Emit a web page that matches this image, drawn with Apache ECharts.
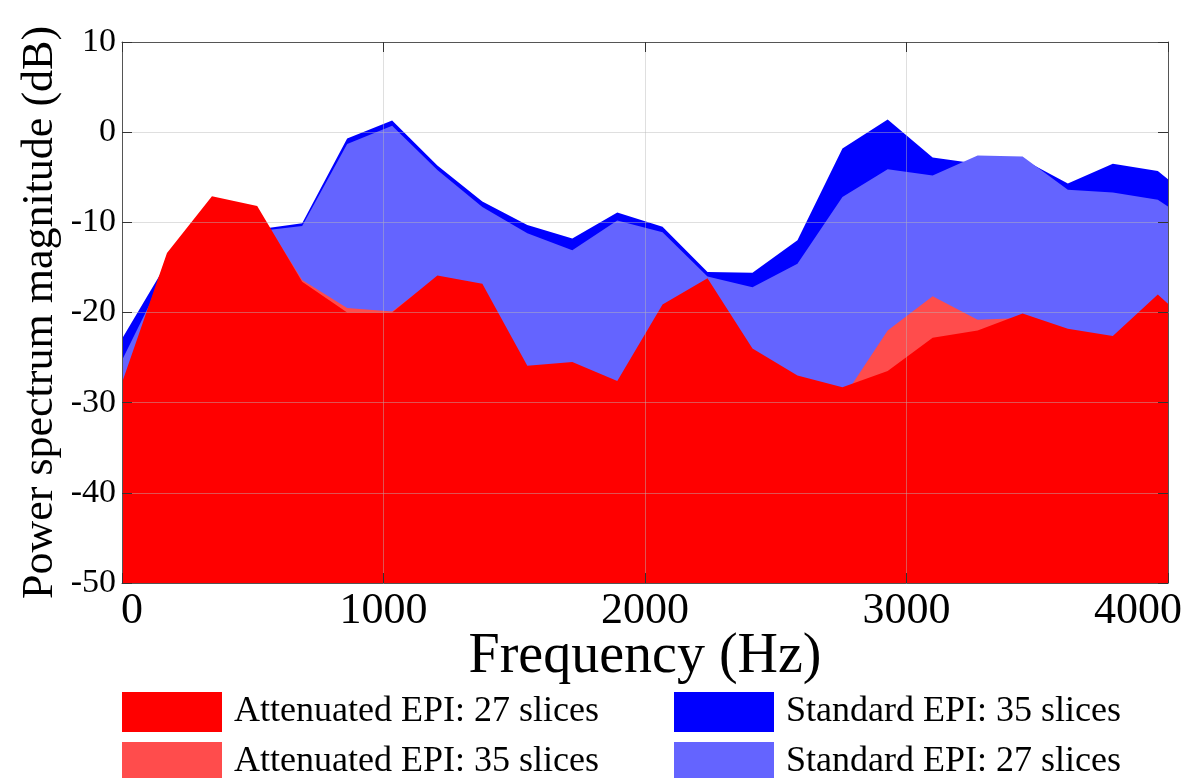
<!DOCTYPE html>
<html><head><meta charset="utf-8">
<script src="https://cdn.jsdelivr.net/npm/echarts@6/dist/echarts.min.js"></script>
<style>html,body{margin:0;padding:0;background:#fff}#c{width:1188px;height:778px}</style>
</head><body><div id="c"></div>
<script>
// Frequency bins (Hz)
const freqHz = [0,172,344,517,689,861,1033,1206,1378,1550,1722,1894,2067,2239,2411,2583,2755,2928,3100,3272,3444,3617,3789,3961,4133];
// Power spectrum magnitude (dB)
const att27 = [-27.8,-13.4,-7.1,-8.2,-16.6,-20.0,-20.0,-15.9,-16.8,-25.9,-25.5,-27.6,-19.1,-16.2,-24.0,-27.0,-28.3,-26.5,-22.8,-22.0,-20.1,-21.8,-22.6,-18.0,-22.5];
const att35 = [-28.0,-13.6,-7.3,-8.4,-16.4,-19.5,-19.9,-16.1,-17.0,-26.1,-25.7,-27.8,-19.3,-16.4,-24.2,-27.2,-29.6,-22.0,-18.2,-20.8,-20.6,-22.0,-22.8,-18.3,-22.7];
const std35 = [-22.9,-14.5,-11.6,-10.8,-10.1,-0.7,1.3,-3.7,-7.7,-10.3,-11.8,-8.9,-10.5,-15.5,-15.6,-12.0,-1.8,1.4,-2.8,-3.5,-3.0,-5.7,-3.5,-4.3,-8.4];
const std27 = [-25.3,-15.2,-12.0,-11.0,-10.4,-1.3,0.7,-4.2,-8.3,-11.2,-13.1,-9.8,-11.1,-16.0,-17.2,-14.6,-7.2,-4.1,-4.8,-2.6,-2.7,-6.4,-6.7,-7.5,-10.8];
const xTicks = [0,1000,2000,3000,4000];
const yTicks = [-50,-40,-30,-20,-10,0,10];
const names = ['Attenuated EPI: 27 slices','Attenuated EPI: 35 slices','Standard EPI: 35 slices','Standard EPI: 27 slices'];

const FONT = "'Liberation Serif','Times New Roman',serif";
const chart = echarts.init(document.getElementById('c'), null, {renderer:'canvas'});
function pairs(v){ return freqHz.map((f,i)=>[f,v[i]]); }
function areaSeries(name, vals, color, z){
  return {name, type:'line', data:pairs(vals), z, showSymbol:false, symbol:'none',
    lineStyle:{width:0,opacity:0}, itemStyle:{color}, color,
    areaStyle:{color, opacity:1, origin:'start'}, silent:true, animation:false};
}
function legendItem(name, left, top){
  return {data:[name], left, top, padding:0, itemWidth:100, itemHeight:40, icon:'rect', selectedMode:false,
    textStyle:{fontFamily:FONT, fontSize:36, color:'#000', padding:[0,0,0,7]}};
}
const tickStyle = {show:true, inside:true, length:10, lineStyle:{color:'#333', width:1}};
const axisLineStyle = {show:true, onZero:false, lineStyle:{color:'#555', width:1}};
const gridLine = {show:true, lineStyle:{color:'rgba(185,185,185,0.45)', width:1}};
const labFont = {fontFamily:FONT, fontSize:44, color:'#000'};

chart.setOption({
  animation:false,
  backgroundColor:'#fff',
  grid:{left:122, right:20, top:42, bottom:195, containLabel:false},
  legend:[
    legendItem(names[0], 122, 692),
    legendItem(names[1], 122, 742),
    legendItem(names[2], 674, 692),
    legendItem(names[3], 674, 742)
  ],
  xAxis:[
    {type:'value', min:xTicks[0], max:xTicks[xTicks.length-1], interval:1000, position:'bottom', z:10,
     name:'Frequency (Hz)', nameLocation:'middle', nameGap:46, nameMoveOverlap:false,
     nameTextStyle:{fontFamily:FONT, fontSize:56, color:'#000'},
     axisLine:axisLineStyle, axisTick:tickStyle, splitLine:gridLine,
     axisLabel:{margin:6, fontFamily:FONT, fontSize:44, color:'#000',
       formatter:function(v){ if(v===xTicks[0]) return '{a|'+v+'}'; if(v===xTicks[xTicks.length-1]) return '{b|'+v+'}'; return '{c|'+v+'}'; },
       rich:{a:Object.assign({padding:[0,0,0,20]},labFont), b:Object.assign({padding:[0,60,0,0]},labFont), c:labFont}}},
    {type:'value', min:xTicks[0], max:xTicks[xTicks.length-1], interval:1000, position:'top', z:10,
     axisLine:axisLineStyle, axisTick:tickStyle, splitLine:{show:false}, axisLabel:{show:false}}
  ],
  yAxis:[
    {type:'value', min:yTicks[0], max:yTicks[yTicks.length-1], interval:10, position:'left', z:10,
     name:'Power spectrum magnitude (dB)', nameLocation:'middle', nameGap:60, nameRotate:90, nameMoveOverlap:false,
     nameTextStyle:{fontFamily:FONT, fontSize:44, color:'#000'},
     axisLine:axisLineStyle, axisTick:tickStyle, splitLine:gridLine,
     axisLabel:{margin:6, fontFamily:FONT, fontSize:34, color:'#000'}},
    {type:'value', min:yTicks[0], max:yTicks[yTicks.length-1], interval:10, position:'right', z:10,
     axisLine:axisLineStyle, axisTick:tickStyle, splitLine:{show:false}, axisLabel:{show:false}}
  ],
  series:[
    areaSeries(names[0], att27, '#FF0000', 5),
    areaSeries(names[1], att35, '#FF4C4C', 4),
    areaSeries(names[2], std35, '#0000FF', 2),
    areaSeries(names[3], std27, '#6464FF', 3)
  ]
});
</script>
</body></html>
